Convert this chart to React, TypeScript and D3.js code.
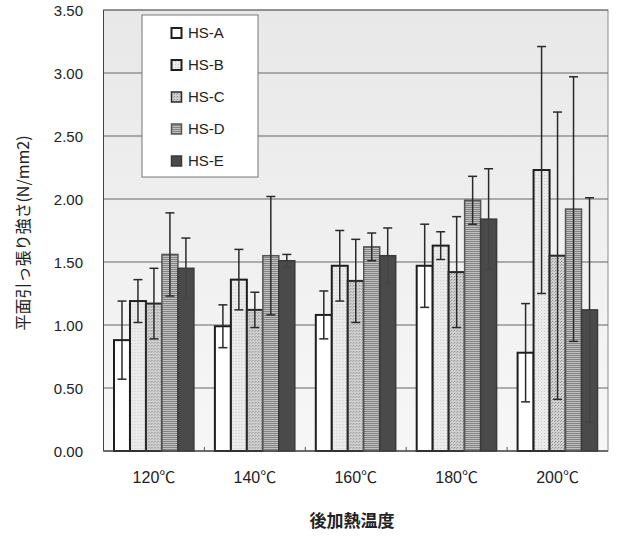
import React from 'react';
import * as d3 from 'd3';

// 後加熱温度ごとの平面引っ張り強さ（平均と標準偏差）
const categories = ['120℃', '140℃', '160℃', '180℃', '200℃'];
const seriesNames = ['HS-A', 'HS-B', 'HS-C', 'HS-D', 'HS-E'];

const hsA = [0.88, 0.99, 1.08, 1.47, 0.78];
const hsB = [1.19, 1.36, 1.47, 1.63, 2.23];
const hsC = [1.17, 1.12, 1.35, 1.42, 1.55];
const hsD = [1.56, 1.55, 1.62, 1.99, 1.92];
const hsE = [1.45, 1.51, 1.55, 1.84, 1.12];

const hsASd = [0.31, 0.17, 0.19, 0.33, 0.39];
const hsBSd = [0.17, 0.24, 0.28, 0.11, 0.98];
const hsCSd = [0.28, 0.14, 0.33, 0.44, 1.14];
const hsDSd = [0.33, 0.47, 0.11, 0.19, 1.05];
const hsESd = [0.24, 0.05, 0.22, 0.40, 0.89];

const yTicks = [0, 0.5, 1, 1.5, 2, 2.5, 3, 3.5];

const means = [hsA, hsB, hsC, hsD, hsE];
const sds = [hsASd, hsBSd, hsCSd, hsDSd, hsESd];

const fills = ['#ffffff', 'url(#patB)', 'url(#patC)', 'url(#patD)', '#4a4a4a'];
const strokes = ['#1e1e1e', '#1e1e1e', '#2a2a2a', '#555555', '#3a3a3a'];

const latin = '"Liberation Sans", Arial, "Noto Sans CJK JP", sans-serif';
const cjk = '"Noto Sans CJK JP", "Liberation Sans", sans-serif';

export default function App() {
  const width = 617;
  const height = 536;
  const left = 103.5;
  const right = 608;
  const top = 10;
  const bottom = 451;

  const x = d3.scaleBand<string>().domain(categories).range([left, right]).padding(0);
  const inner = d3
    .scaleBand<string>()
    .domain(seriesNames)
    .range([10.5, x.bandwidth() - 10.5])
    .padding(0);
  const y = d3.scaleLinear().domain([0, 3.5]).range([bottom, top]);

  const cap = 4.5;

  return (
    <svg
      width={width}
      height={height}
      viewBox={`0 0 ${width} ${height}`}
      style={{ position: 'absolute', left: 0, top: 0, background: '#fff' }}
    >
      <defs>
        <linearGradient id="bg" x1="0" y1="0" x2="0" y2="1">
          <stop offset="0" stopColor="#e8e8e8" />
          <stop offset="0.42" stopColor="#eeeeee" />
          <stop offset="1" stopColor="#f7f7f7" />
        </linearGradient>
        <pattern id="patB" width="3" height="3" patternUnits="userSpaceOnUse">
          <rect width="3" height="3" fill="#ebebeb" />
          <rect x="1" y="1" width="1" height="1" fill="#cacaca" />
        </pattern>
        <pattern id="patC" width="3" height="3" patternUnits="userSpaceOnUse">
          <rect width="3" height="3" fill="#d0d0d0" />
          <rect x="0" y="0" width="1" height="1" fill="#8a8a8a" />
          <rect x="2" y="1" width="1" height="1" fill="#a4a4a4" />
        </pattern>
        <pattern id="patD" width="4" height="2" patternUnits="userSpaceOnUse">
          <rect width="4" height="2" fill="#c0c0c0" />
          <rect y="1" width="4" height="1" fill="#838383" />
        </pattern>
      </defs>

      {/* plot area */}
      <rect x={left} y={top} width={right - left} height={bottom - top} fill="url(#bg)" stroke="#8a8a8a" />

      {yTicks.map(t => (
        <line key={t} x1={left} x2={right} y1={y(t)} y2={y(t)} stroke="#666" strokeWidth={1} />
      ))}

      {/* category separators */}
      {categories.slice(1).map(c => (
        <line key={c} x1={x(c)!} x2={x(c)!} y1={bottom} y2={bottom - 4} stroke="#555" />
      ))}

      {/* bars */}
      {categories.map((c, ci) => (
        <g key={c} transform={`translate(${x(c)},0)`}>
          {seriesNames.map((s, si) => (
            <rect
              key={s}
              x={inner(s)!}
              y={y(means[si][ci])}
              width={inner.bandwidth()}
              height={bottom - y(means[si][ci])}
              fill={fills[si]}
              stroke={strokes[si]}
              strokeWidth={si < 3 ? 2 : 1.5}
            />
          ))}
          {seriesNames.map((s, si) => {
            const cx = inner(s)! + inner.bandwidth() / 2;
            const m = y(means[si][ci]);
            const hi = y(means[si][ci] + sds[si][ci]);
            const lo = y(Math.max(0, means[si][ci] - sds[si][ci]));
            // lower whisker sits inside the bar; on the dark bar it blends in
            const loColor = si === 4 ? '#444' : '#2a2a2a';
            return (
              <g key={s} strokeWidth={1.5}>
                <line x1={cx} x2={cx} y1={hi} y2={m} stroke="#2a2a2a" />
                <line x1={cx - cap} x2={cx + cap} y1={hi} y2={hi} stroke="#2a2a2a" />
                <line x1={cx} x2={cx} y1={m} y2={lo} stroke={loColor} />
                <line x1={cx - cap} x2={cx + cap} y1={lo} y2={lo} stroke={loColor} />
              </g>
            );
          })}
        </g>
      ))}

      {/* axes lines */}
      <line x1={left} x2={left} y1={top} y2={bottom} stroke="#444" />
      <line x1={left} x2={right} y1={bottom} y2={bottom} stroke="#444" />

      {/* y tick labels */}
      {yTicks.map(t => (
        <text
          key={t}
          x={83}
          y={y(t) + 2}
          textAnchor="end"
          dominantBaseline="middle"
          fontFamily={latin}
          fontSize={15}
          fill="#222"
        >
          {d3.format('.2f')(t)}
        </text>
      ))}

      {/* x tick labels */}
      {categories.map(c => (
        <text
          key={c}
          x={x(c)! + x.bandwidth() / 2}
          y={479}
          textAnchor="middle"
          dominantBaseline="middle"
          fontFamily={latin}
          fontSize={16}
          fill="#222"
        >
          {c}
        </text>
      ))}

      {/* axis titles */}
      <text
        transform="translate(25,233) rotate(-90)"
        textAnchor="middle"
        dominantBaseline="middle"
        fontFamily={cjk}
        fontSize={16}
        fill="#222"
      >
        平面引っ張り強さ(N/mm2)
      </text>
      <text
        x={352}
        y={522}
        textAnchor="middle"
        dominantBaseline="middle"
        fontFamily={cjk}
        fontSize={17}
        fontWeight={600}
        fill="#222"
      >
        後加熱温度
      </text>

      {/* legend */}
      <rect x={142} y={15} width={116} height={162} fill="#fff" stroke="#777" />
      {seriesNames.map((s, si) => {
        const ly = 33 + si * 32;
        return (
          <g key={s}>
            <rect
              x={171.5}
              y={ly - 5}
              width={10}
              height={10}
              fill={fills[si]}
              stroke={strokes[si]}
              strokeWidth={si < 2 ? 2 : 1.5}
            />
            <text
              x={188}
              y={ly + 1}
              dominantBaseline="middle"
              fontFamily={latin}
              fontSize={15}
              fill="#222"
            >
              {s}
            </text>
          </g>
        );
      })}
    </svg>
  );
}
